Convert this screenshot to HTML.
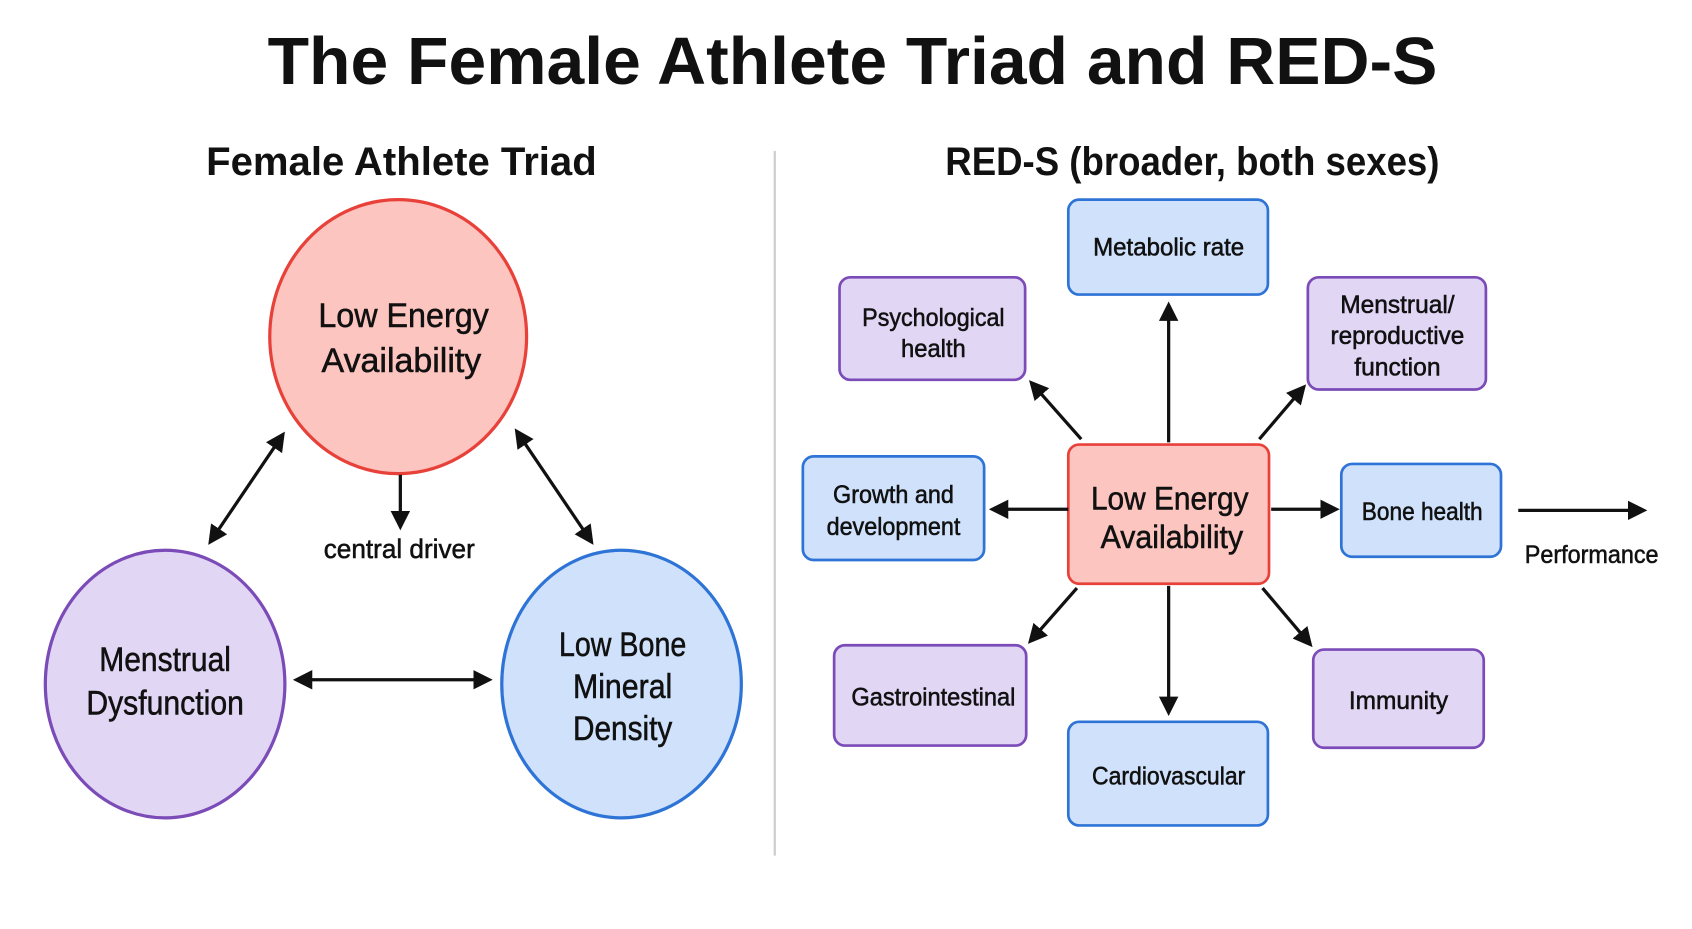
<!DOCTYPE html>
<html><head><meta charset="utf-8"><style>
html,body{margin:0;padding:0;background:#fff;}
svg{display:block;}
text{font-family:"Liberation Sans",sans-serif;fill:#111;text-anchor:middle;}
.m text{stroke:#111;stroke-width:0.5;}
</style></head><body>
<svg width="1692" height="929" viewBox="0 0 1568 861" preserveAspectRatio="none" xmlns="http://www.w3.org/2000/svg">
<defs>
<marker id="a" viewBox="0 0 10 10" refX="8" refY="5" markerWidth="6" markerHeight="6" orient="auto-start-reverse"><path d="M0,0 L10,5 L0,10 z" fill="#111"/></marker>
</defs>
<rect width="1568" height="861" fill="#fff"/>
<text x="790" y="78" font-size="62" font-weight="bold" textLength="1084" lengthAdjust="spacingAndGlyphs">The Female Athlete Triad and RED-S</text>
<text x="372" y="162" font-size="37" font-weight="bold" textLength="362" lengthAdjust="spacingAndGlyphs">Female Athlete Triad</text>
<text x="1105" y="162" font-size="37" font-weight="bold" textLength="458" lengthAdjust="spacingAndGlyphs">RED-S (broader, both sexes)</text>
<line x1="718" y1="140" x2="718" y2="793" stroke="#ccc" stroke-width="2"/>

<g stroke-width="3">
<ellipse cx="369" cy="312" rx="119" ry="127" fill="#fdc5c0" stroke="#e8413a"/>
<ellipse cx="153" cy="634" rx="111" ry="124" fill="#e2d6f5" stroke="#7b4bb8"/>
<ellipse cx="576" cy="634" rx="111" ry="124" fill="#cfe1fb" stroke="#2e74d6"/>
</g>
<g class="m" font-size="32" lengthAdjust="spacingAndGlyphs">
<text x="374" y="303" textLength="158" lengthAdjust="spacingAndGlyphs">Low Energy</text><text x="372" y="345" textLength="148" lengthAdjust="spacingAndGlyphs">Availability</text>
<text x="153" y="622" textLength="122" lengthAdjust="spacingAndGlyphs">Menstrual</text><text x="153" y="662" textLength="146" lengthAdjust="spacingAndGlyphs">Dysfunction</text>
<text x="577" y="608" textLength="118" lengthAdjust="spacingAndGlyphs">Low Bone</text><text x="577" y="647" textLength="92" lengthAdjust="spacingAndGlyphs">Mineral</text><text x="577" y="686" textLength="92" lengthAdjust="spacingAndGlyphs">Density</text>
</g>
<g stroke="#111" stroke-width="3" marker-end="url(#a)" marker-start="url(#a)">
<line x1="262" y1="403" x2="195" y2="502"/>
<line x1="479" y1="400" x2="548" y2="502"/>
<line x1="275" y1="630" x2="453" y2="630"/>
</g>
<line x1="371" y1="440" x2="371" y2="488" stroke="#111" stroke-width="3" marker-end="url(#a)"/>
<g class="m"><text x="370" y="517" font-size="25" textLength="140" lengthAdjust="spacingAndGlyphs">central driver</text></g>

<g stroke-width="2.5">
<rect x="990" y="412" width="186" height="129" rx="10" fill="#fdc5c0" stroke="#e8413a"/>
<rect x="990" y="185" width="185" height="88" rx="10" fill="#cfe1fb" stroke="#2e74d6"/>
<rect x="778" y="257" width="172" height="95" rx="10" fill="#e2d6f5" stroke="#7b4bb8"/>
<rect x="1212" y="257" width="165" height="104" rx="10" fill="#e2d6f5" stroke="#7b4bb8"/>
<rect x="744" y="423" width="168" height="96" rx="10" fill="#cfe1fb" stroke="#2e74d6"/>
<rect x="1243" y="430" width="148" height="86" rx="10" fill="#cfe1fb" stroke="#2e74d6"/>
<rect x="773" y="598" width="178" height="93" rx="10" fill="#e2d6f5" stroke="#7b4bb8"/>
<rect x="1217" y="602" width="158" height="91" rx="10" fill="#e2d6f5" stroke="#7b4bb8"/>
<rect x="990" y="669" width="185" height="96" rx="10" fill="#cfe1fb" stroke="#2e74d6"/>
</g>
<g class="m">
<text x="1084" y="472" font-size="30" textLength="146" lengthAdjust="spacingAndGlyphs">Low Energy</text><text x="1086" y="508" font-size="30" textLength="132" lengthAdjust="spacingAndGlyphs">Availability</text>
</g>
<g class="m" font-size="23">
<text x="1083" y="237" textLength="140" lengthAdjust="spacingAndGlyphs">Metabolic rate</text>
<text x="865" y="302" textLength="132" lengthAdjust="spacingAndGlyphs">Psychological</text><text x="865" y="331" textLength="60" lengthAdjust="spacingAndGlyphs">health</text>
<text x="1295" y="290" textLength="106" lengthAdjust="spacingAndGlyphs">Menstrual/</text><text x="1295" y="319" textLength="124" lengthAdjust="spacingAndGlyphs">reproductive</text><text x="1295" y="348" textLength="80" lengthAdjust="spacingAndGlyphs">function</text>
<text x="828" y="466" textLength="112" lengthAdjust="spacingAndGlyphs">Growth and</text><text x="828" y="496" textLength="124" lengthAdjust="spacingAndGlyphs">development</text>
<text x="1318" y="482" textLength="112" lengthAdjust="spacingAndGlyphs">Bone health</text>
<text x="865" y="654" textLength="152" lengthAdjust="spacingAndGlyphs">Gastrointestinal</text>
<text x="1296" y="657" textLength="92" lengthAdjust="spacingAndGlyphs">Immunity</text>
<text x="1083" y="727" textLength="142" lengthAdjust="spacingAndGlyphs">Cardiovascular</text>
<text x="1475" y="522" textLength="124" lengthAdjust="spacingAndGlyphs">Performance</text>
</g>
<g stroke="#111" stroke-width="3" marker-end="url(#a)">
<line x1="1083" y1="410" x2="1083" y2="283"/>
<line x1="1002" y1="407" x2="956" y2="355"/>
<line x1="1167" y1="407" x2="1208" y2="359"/>
<line x1="990" y1="472" x2="920" y2="472"/>
<line x1="1178" y1="472" x2="1238" y2="472"/>
<line x1="998" y1="545" x2="955" y2="594"/>
<line x1="1170" y1="545" x2="1214" y2="597"/>
<line x1="1083" y1="543" x2="1083" y2="660"/>
<line x1="1407" y1="473" x2="1523" y2="473"/>
</g>
</svg>
</body></html>
